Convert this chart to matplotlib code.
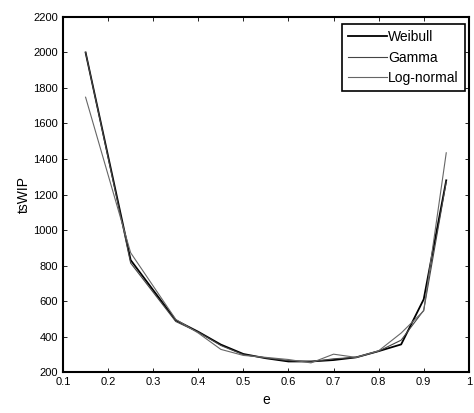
import numpy as np
import matplotlib
matplotlib.use("Agg")
import matplotlib.pyplot as plt

plt.rcParams['font.family'] = ['Liberation Sans', 'DejaVu Sans']

# valores
e = [0.15, 0.25, 0.35, 0.40, 0.45, 0.50, 0.55, 0.60, 0.65, 0.70, 0.75, 0.80, 0.85, 0.90, 0.95]
weibull = [2000, 831, 492, 427, 355, 302, 278, 260, 260, 268, 283, 318, 356, 610, 1280]
gamma = [2000, 814, 485, 425, 350, 298, 280, 265, 258, 275, 283, 318, 380, 548, 1272]
lognormal = [1748, 872, 497, 420, 328, 294, 283, 271, 252, 301, 283, 320, 420, 545, 1435]

xticks = [0.1, 0.2, 0.3, 0.4, 0.5, 0.6, 0.7, 0.8, 0.9, 1.0]
xticklabels = ['0.1', '0.2', '0.3', '0.4', '0.5', '0.6', '0.7', '0.8', '0.9', '1']
yticks = list(range(200, 2201, 200))

fig = plt.figure(figsize=(4.74, 4.13), dpi=100)
ax = fig.add_axes([0.133, 0.099, 0.856, 0.860])

ax.plot(e, weibull, color='black', lw=1.3, label='Weibull')
ax.plot(e, gamma, color='#444444', lw=0.8, label='Gamma')
ax.plot(e, lognormal, color='#666666', lw=0.8, label='Log-normal')

ax.set_xlim(0.1, 1.0)
ax.set_ylim(200, 2200)
ax.set_xticks(xticks)
ax.set_xticklabels(xticklabels)
ax.set_yticks(yticks)
ax.tick_params(direction='in', top=True, right=True, length=3, width=0.6, labelsize=8)
for s in ax.spines.values():
    s.set_linewidth(1.5)

ax.set_xlabel('e', fontsize=10, labelpad=4)
ax.set_ylabel('tsWIP', fontsize=10, labelpad=2)

leg = ax.legend(loc='upper right', bbox_to_anchor=(0.99, 0.98), fontsize=10,
                frameon=True, fancybox=False, framealpha=1, edgecolor='black',
                handlelength=2.8, handletextpad=0.05, labelspacing=0.45, borderpad=0.45,
                borderaxespad=0)
leg.get_frame().set_linewidth(1.2)

fig.savefig('out.png', dpi=100)
